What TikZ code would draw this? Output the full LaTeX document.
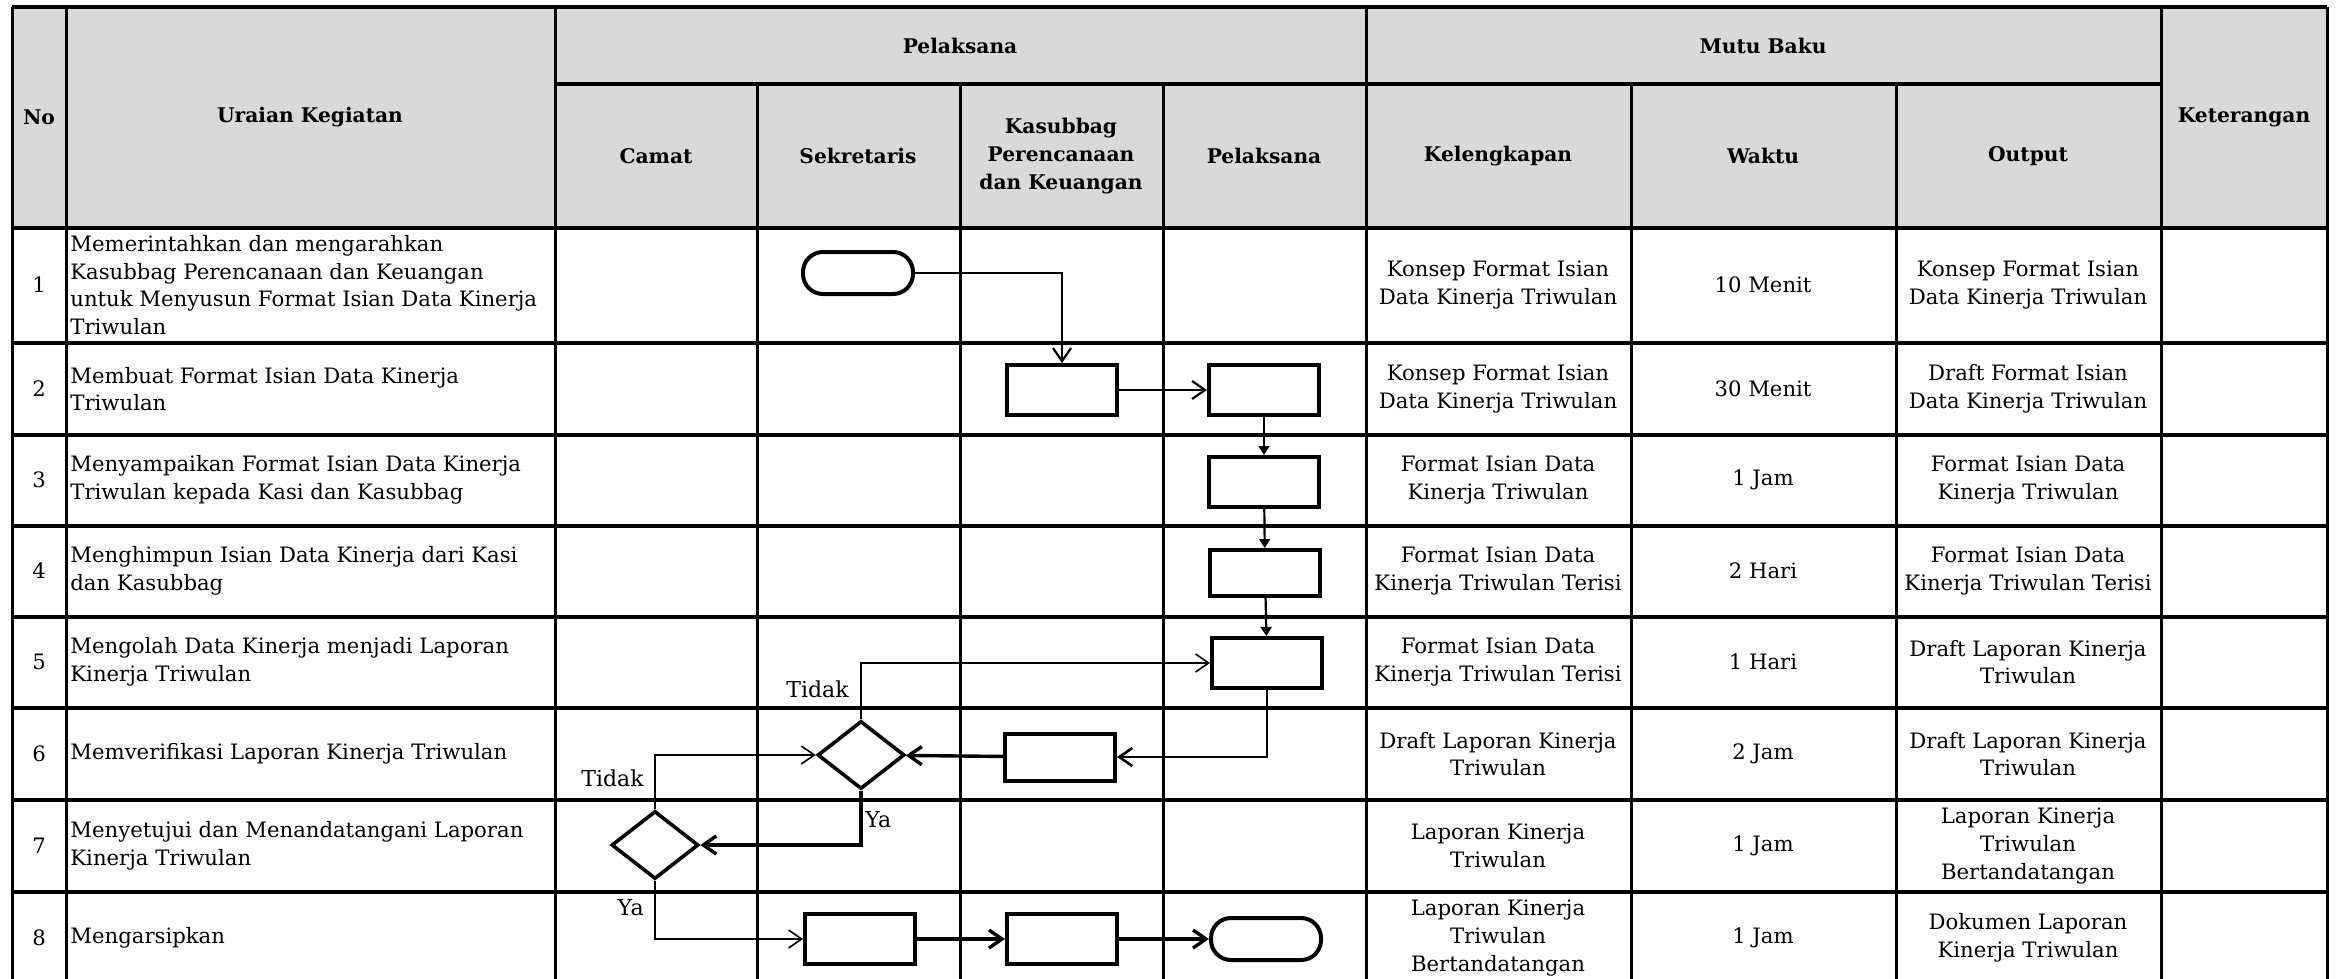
\documentclass[tikz,border=0pt]{standalone}
\usepackage{fontspec}
\setmainfont{DejaVu Serif}
\usetikzlibrary{arrows.meta,shapes.geometric}
\begin{document}
\begin{tikzpicture}[x=0.5pt,y=-0.5pt]
  \tikzstyle{txt}=[font=\fontsize{10.6}{13.9}\selectfont,inner sep=0pt,align=center]
  \tikzstyle{hdr}=[txt,font=\fontsize{10.1}{13.8}\selectfont\bfseries]
  \tikzstyle{uraian}=[txt,anchor=west,align=left]
  \tikzstyle{lbl}=[font=\fontsize{11}{12}\selectfont,inner sep=0pt]
  \tikzstyle{proc}=[draw,line width=2pt,minimum width=55pt,minimum height=25pt,inner sep=0pt]
  \tikzstyle{term}=[proc,rounded corners=10pt,minimum height=21pt]
  \tikzstyle{dec}=[draw,diamond,line width=1.8pt,minimum width=43.5pt,minimum height=34pt,inner sep=0pt]
  \tikzstyle{flow}=[line width=1.1pt,-{Straight Barb[length=6.5pt,width=9pt]}]
  \tikzstyle{flowb}=[flow,line width=1.7pt]
  \tikzstyle{flowt}=[flow,line width=0.8pt]
  \tikzstyle{down}=[line width=1.1pt,-{Triangle[length=4.5pt,width=5.5pt]}]
  \useasboundingbox (0,0) rectangle (2338,979);
  % table
  \fill[black!15] (12,7) rectangle (2327,228);
  \foreach \y in {7,228,343,435,526,617,708,800,892,983}
    \draw[line width=2pt] (12,\y) -- (2327,\y);
  \draw[line width=2pt] (555,84) -- (2161,84);
  \foreach \x in {12,66,555,1366,2161,2327}
    \draw[line width=1.5pt] (\x,7) -- (\x,983);
  \foreach \x in {757,960,1163,1631,1896}
    \draw[line width=1.5pt] (\x,84) -- (\x,983);
  \node[hdr] (hno) at (39,117) {No};
  \node[hdr] (huraian) at (310,117) {Uraian Kegiatan};
  \node[hdr] (hpelaksana) at (960,46) {Pelaksana};
  \node[hdr] (hmutu) at (1763,46) {Mutu Baku};
  \node[hdr] (hket) at (2244,117) {Keterangan};
  \node[hdr] (hcamat) at (656,156) {Camat};
  \node[hdr] (hsekr) at (858,156) {Sekretaris};
  \node[hdr] (hkasub) at (1061,156) {Kasubbag\\Perencanaan\\dan Keuangan};
  \node[hdr] (hpel) at (1264,156) {Pelaksana};
  \node[hdr] (hkel) at (1498,156) {Kelengkapan};
  \node[hdr] (hwaktu) at (1763,156) {Waktu};
  \node[hdr] (houtput) at (2028,156) {Output};
  \foreach \n/\y/\ur/\kel/\wak/\out in {
    1/285/{Memerintahkan dan mengarahkan\\Kasubbag Perencanaan dan Keuangan\\untuk Menyusun Format Isian Data Kinerja\\Triwulan}/{Konsep Format Isian\\Data Kinerja Triwulan}/{10 Menit}/{Konsep Format Isian\\Data Kinerja Triwulan},
    2/389/{Membuat Format Isian Data Kinerja\\Triwulan}/{Konsep Format Isian\\Data Kinerja Triwulan}/{30 Menit}/{Draft Format Isian\\Data Kinerja Triwulan},
    3/480/{Menyampaikan Format Isian Data Kinerja\\Triwulan kepada Kasi dan Kasubbag}/{Format Isian Data\\Kinerja Triwulan}/{1 Jam}/{Format Isian Data\\Kinerja Triwulan},
    4/571/{Menghimpun Isian Data Kinerja dari Kasi\\dan Kasubbag}/{Format Isian Data\\Kinerja Triwulan Terisi}/{2 Hari}/{Format Isian Data\\Kinerja Triwulan Terisi},
    5/662/{Mengolah Data Kinerja menjadi Laporan\\Kinerja Triwulan}/{Format Isian Data\\Kinerja Triwulan Terisi}/{1 Hari}/{Draft Laporan Kinerja\\Triwulan},
    6/754/{Memverifikasi Laporan Kinerja Triwulan}/{Draft Laporan Kinerja\\Triwulan}/{2 Jam}/{Draft Laporan Kinerja\\Triwulan},
    7/846/{Menyetujui dan Menandatangani Laporan\\Kinerja Triwulan}/{Laporan Kinerja\\Triwulan}/{1 Jam}/{Laporan Kinerja\\Triwulan\\Bertandatangan},
    8/938/{Mengarsipkan}/{Laporan Kinerja\\Triwulan\\Bertandatangan}/{1 Jam}/{Dokumen Laporan\\Kinerja Triwulan}} {
    \node[txt] (no\n) at (39,\y) {\n};
    \node[uraian] (ur\n) at (70,\y) {\ur};
    \node[txt] (kel\n) at (1498,\y) {\kel};
    \node[txt] (wak\n) at (1763,\y) {\wak};
    \node[txt] (out\n) at (2028,\y) {\out};
  }
  % flow
  \node[term] (s1) at (858,273) {};
  \node[proc] (k2) at (1062,390) {};
  \node[proc] (p2) at (1264,390) {};
  \node[proc] (p3) at (1264,482) {};
  \node[proc,minimum height=23pt] (p4) at (1265,573) {};
  \node[proc] (p5) at (1267,663) {};
  \node[proc,minimum height=23.5pt] (k6) at (1060,757) {};
  \node[dec] (d6) at (861,755) {};
  \node[dec] (d7) at (655,845) {};
  \node[proc] (s8) at (860,939) {};
  \node[proc] (k8) at (1062,939) {};
  \node[term] (t8) at (1266,939) {};
  \draw[flow] (s1.east) -| (k2.north);
  \draw[flow] (k2) -- (p2);
  \draw[down] (p2) -- (p3);
  \draw[down] (p3) -- (p4);
  \draw[down] (p4) -- (p5);
  \draw[flow,line width=1.3pt] (p5.south) |- (k6.east);
  \draw[flowb] (k6) -- (d6);
  \draw[flowt] (d6.north) |- (p5.west);
  \node[lbl,anchor=base east] (tidak1) at ([shift={(-6pt,11pt)}]d6.north) {Tidak};
  \draw[flowb] (d6.south) |- (d7.east);
  \node[lbl,anchor=west] (ya1) at ([shift={(2pt,-14.5pt)}]d6.south) {Ya};
  \draw[flowt] (d7.north) |- (d6.west);
  \node[lbl,anchor=base east] (tidak2) at ([shift={(-5.5pt,11.5pt)}]d7.north) {Tidak};
  \draw[flowt] (d7.south) |- (s8.west);
  \node[lbl,anchor=east] (ya2) at ([shift={(-5.5pt,-13.5pt)}]d7.south) {Ya};
  \draw[flowb] (s8) -- (k8);
  \draw[flowb] (k8) -- (t8);
\end{tikzpicture}
\end{document}
